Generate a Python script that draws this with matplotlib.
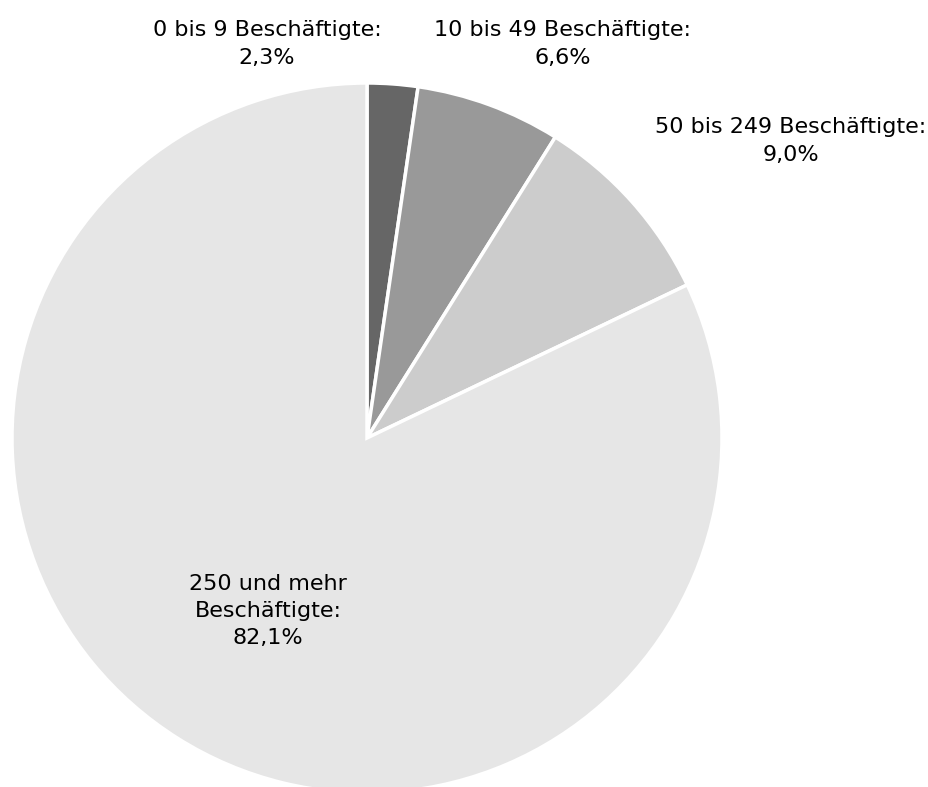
import matplotlib
matplotlib.use("Agg")
import matplotlib.pyplot as plt

categories = ["0 bis 9 Beschäftigte", "10 bis 49 Beschäftigte",
              "50 bis 249 Beschäftigte", "250 und mehr\nBeschäftigte"]
shares = [2.3, 6.6, 9.0, 82.1]
colors = ["#666666", "#999999", "#cccccc", "#e6e6e6"]

# label anchor points in pixels (x, y from top)
label_pos = [(267, 44), (563, 44), (791, 141), (268, 611)]

W, H = 929, 787
fig = plt.figure(figsize=(W / 100, H / 100), dpi=100)
ax = fig.add_axes([0, 0, 1, 1])

ax.pie(shares, colors=colors, startangle=90, counterclock=False,
       radius=355, center=(367, H - 438),
       wedgeprops=dict(edgecolor="white", linewidth=2.5))

for cat, val, (x, y) in zip(categories, shares, label_pos):
    txt = f"{cat}:\n{val:.1f}%".replace(".", ",")
    ax.text(x, H - y, txt, ha="center", va="center", fontsize=16,
            family="DejaVu Sans", linespacing=1.45, color="black")

ax.set_xlim(0, W)
ax.set_ylim(0, H)
ax.set_aspect("equal")
ax.axis("off")

fig.savefig("out.png", dpi=100)
